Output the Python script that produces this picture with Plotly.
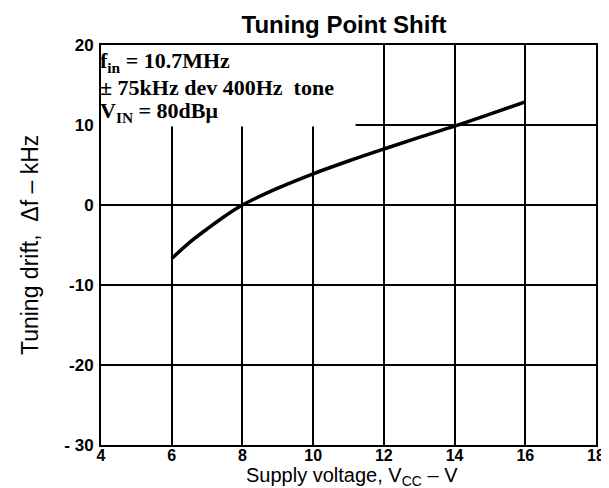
import plotly.graph_objects as go

# Data
supply_v = [6, 6.5, 7, 7.5, 8, 9, 10, 11, 12, 13, 14, 15, 16]
drift_khz = [-6.7, -4.7, -3.0, -1.4, 0.0, 2.1, 3.9, 5.5, 7.0, 8.45, 9.85, 11.35, 12.9]

x_ticks = [4, 6, 8, 10, 12, 14, 16, 18]
y_ticks = [-30, -20, -10, 0, 10, 20]
y_tick_text = ["- 30", "-20", "-10", "0", "10", "20"]

cond_lines = ["f<sub>in</sub> = 10.7MHz",
              "± 75kHz dev 400Hz  tone",
              "V<sub>IN</sub> = 80dBμ"]

fig = go.Figure()
fig.add_trace(go.Scatter(x=supply_v, y=drift_khz, mode="lines",
                         line=dict(color="black", width=3.5, shape="spline"),
                         showlegend=False, hoverinfo="skip"))

tick_font = dict(family="Liberation Sans", size=16, color="black", weight="bold")
fig.update_xaxes(range=[4, 18], tickvals=x_ticks, ticktext=[str(v) for v in x_ticks],
                 showgrid=True, gridcolor="black", gridwidth=1.5,
                 showline=True, linecolor="black", linewidth=2, mirror=True,
                 zeroline=False, ticks="", tickfont=tick_font, ticklabelstandoff=-5)
fig.update_yaxes(range=[-30, 20], tickvals=y_ticks, ticktext=y_tick_text,
                 showgrid=True, gridcolor="black", gridwidth=1.5,
                 showline=True, linecolor="black", linewidth=2, mirror=True,
                 zeroline=False, ticks="", tickfont=dict(tick_font, size=17), ticklabelstandoff=2)

# axis titles
title_font = dict(family="Liberation Sans", size=20, color="black")
fig.add_annotation(xref="paper", yref="paper", x=0.507, y=-0.0795, xanchor="center", yanchor="middle",
                   showarrow=False, text="Supply voltage, V<sub>CC</sub> – V", font=title_font)
fig.add_annotation(xref="paper", yref="paper", x=-0.1434, y=0.5, xanchor="center", yanchor="middle",
                   showarrow=False, textangle=-90, text="Tuning drift,  Δf – kHz",
                   font=dict(title_font, size=23))

# white box behind the condition text (covers gridlines)
fig.add_shape(type="rect", xref="x", yref="y", x0=4, x1=11.2, y0=9.8, y1=20,
              fillcolor="white", line=dict(width=0), layer="between")

for i, t in enumerate(cond_lines):
    fig.add_annotation(xref="paper", yref="paper", x=0, xshift=-3, y=0.9575 - i * 0.063,
                       xanchor="left", yanchor="middle", showarrow=False, text=t,
                       font=dict(family="Liberation Serif", size=22, color="black", weight="bold"))

fig.update_layout(
    width=609, height=488,
    margin=dict(l=93, r=21, t=37, b=51),
    paper_bgcolor="white", plot_bgcolor="white",
    title=dict(text="<b>Tuning Point Shift</b>", x=336 / 609, xanchor="center", y=1 - 17 / 488, yanchor="middle",
               font=dict(family="Liberation Sans", size=24, color="black")),
)

fig.write_html("out.html")
